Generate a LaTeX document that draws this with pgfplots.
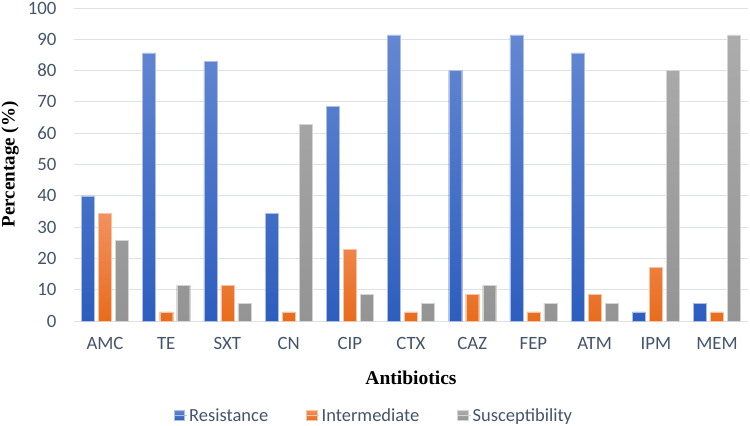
\documentclass[border=0pt]{standalone}
\usepackage{pgfplots}
\pgfplotsset{compat=1.18}
\usepackage{fontspec}
\setmainfont{Liberation Serif}
\newfontfamily\calibrifont{Carlito}
\definecolor{tick}{RGB}{68,84,106}
\definecolor{grid}{RGB}{222,225,232}
\definecolor{bluet}{RGB}{100,135,210}
\definecolor{blueb}{RGB}{45,94,190}
\definecolor{oranget}{RGB}{242,145,96}
\definecolor{orangeb}{RGB}{232,108,28}
\definecolor{grayt}{RGB}{172,172,172}
\definecolor{grayb}{RGB}{148,148,148}
\begin{document}
\begin{tikzpicture}
\begin{axis}[
  scale only axis,
  width=673.2bp, height=313bp,
  xmin=-0.5, xmax=10.5, ymin=0, ymax=100,
  ytick={0,10,...,100},
  xtick={0,...,10},
  xticklabels={AMC,TE,SXT,CN,CIP,CTX,CAZ,FEP,ATM,IPM,MEM},
  /pgf/number format/assume math mode=true,
  major tick length=0pt,
  axis x line*=bottom, axis y line*=left,
  axis line style={draw=none},
  ymajorgrids, grid style={draw=grid, line width=0.8bp},
  ticklabel style={font=\calibrifont\fontsize{18.8bp}{20bp}\selectfont, text=tick},
  yticklabel style={xshift=-14.5bp},
  xticklabel style={yshift=-13bp},
  xlabel={Antibiotics},
  ylabel={Percentage (\%)},
  xlabel style={font=\bfseries\fontsize{19.5bp}{21bp}\selectfont, at={(axis description cs:0.5,0)}, anchor=base, yshift=-63bp},
  ylabel style={font=\bfseries\fontsize{19bp}{21bp}\selectfont, inner sep=0pt, at={(axis description cs:-0.0953,0.5)}, anchor=center},
  ybar=4bp, bar width=13bp,
  legend style={draw=none, fill=none, at={(axis description cs:0.445,0)}, anchor=center, yshift=-94.5bp,
    font=\calibrifont\fontsize{18.5bp}{20bp}\selectfont, text=tick, legend columns=-1,
    /tikz/every even column/.append style={column sep=36bp}},
  legend image code/.code={\fill[#1] (0bp,-5bp) rectangle (10.5bp,5.5bp); \path (0bp,0bp) -- (13bp,0bp);},
]
\addplot[draw=white!60!blueb, line width=0.4bp, shading=axis, top color=bluet, bottom color=blueb, legend image post style={fill=blueb}]
  coordinates {(0,40) (1,85.7) (2,82.9) (3,34.3) (4,68.6) (5,91.4) (6,80) (7,91.4) (8,85.7) (9,2.9) (10,5.7)};
\addplot[draw=white!60!orangeb, line width=0.4bp, shading=axis, top color=oranget, bottom color=orangeb, legend image post style={fill=orangeb}]
  coordinates {(0,34.3) (1,2.9) (2,11.4) (3,2.9) (4,22.9) (5,2.9) (6,8.6) (7,2.9) (8,8.6) (9,17.1) (10,2.9)};
\addplot[draw=white!60!grayb, line width=0.4bp, shading=axis, top color=grayt, bottom color=grayb, legend image post style={fill=grayb}]
  coordinates {(0,25.7) (1,11.4) (2,5.7) (3,62.9) (4,8.6) (5,5.7) (6,11.4) (7,5.7) (8,5.7) (9,80) (10,91.4)};
\legend{Resistance,Intermediate,Susceptibility}
\end{axis}
\pgfresetboundingbox
\path (current axis.south west) ++(-74.4bp,-105bp) rectangle ++(750bp,426bp);
\end{tikzpicture}
\end{document}
